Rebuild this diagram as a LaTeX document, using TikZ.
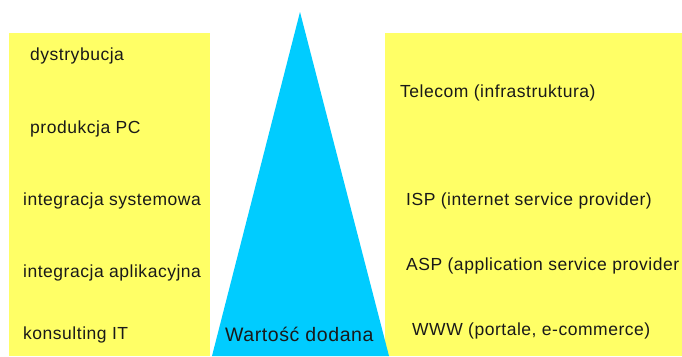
\documentclass[tikz,border=0pt]{standalone}
\usepackage{fontspec}
\setmainfont{Liberation Sans}[LetterSpace=3]
\definecolor{boxyellow}{HTML}{FFFF66}
\definecolor{tricyan}{HTML}{00CCFF}
\begin{document}
\begin{tikzpicture}[x=1pt,y=-1pt,
  lbl/.style={anchor=base west,inner sep=0pt,font=\fontsize{17.5}{20}\selectfont,text=black!90}]
\useasboundingbox (0,0) rectangle (682,356);
\clip (0,0) rectangle (682,356);
\fill[boxyellow] (9,33) rectangle (210,356);
\fill[boxyellow] (385,33) rectangle (682,356);
\fill[tricyan] (300,12) -- (389,356) -- (212,356) -- cycle;
\node[lbl] (l1) at (30,60) {dystrybucja};
\node[lbl] (l2) at (30,133) {produkcja PC};
\node[lbl] (l3) at (23,205) {integracja systemowa};
\node[lbl] (l4) at (23,277) {integracja aplikacyjna};
\node[lbl] (l5) at (23,339) {konsulting IT};
\node[lbl] (r1) at (400,97) {Telecom (infrastruktura)};
\node[lbl] (r2) at (406,205) {ISP (internet service provider)};
\node[lbl] (r3) at (406,270) {ASP (application service provider};
\node[lbl] (r4) at (412,335) {WWW (portale, e-commerce)};
\node[lbl,font=\fontsize{19.5}{22}\selectfont] (t) at (225,341) {Wartość dodana};
\end{tikzpicture}
\end{document}
